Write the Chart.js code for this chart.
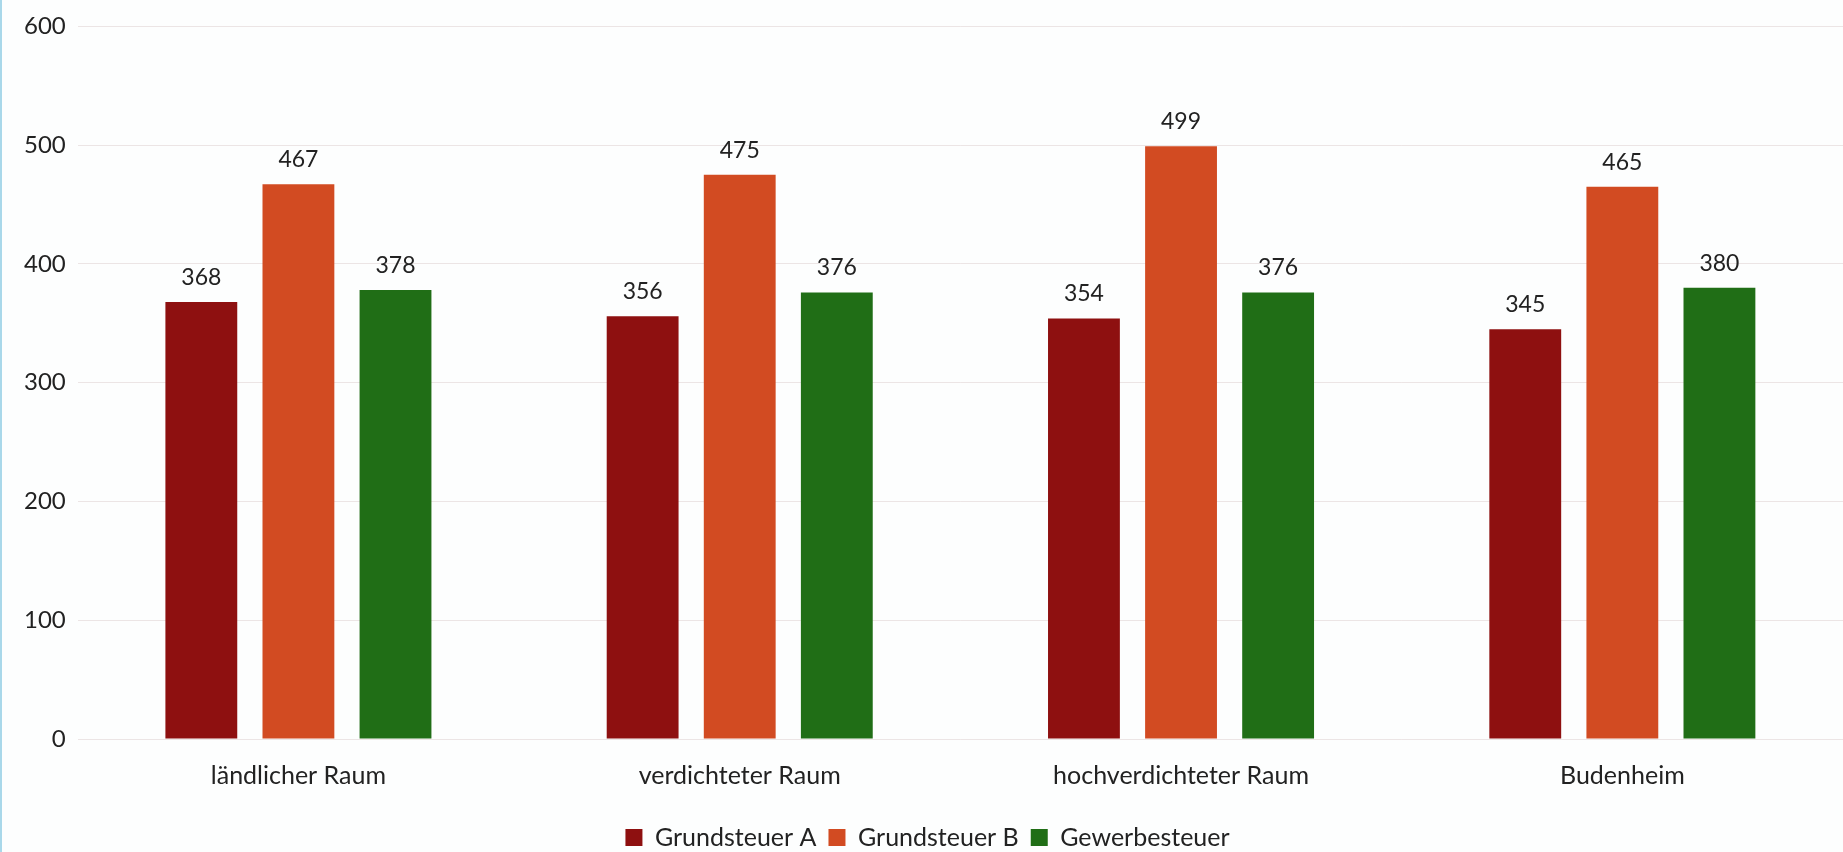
<!DOCTYPE html>
<html>
<head>
<meta charset="utf-8">
<script src="https://cdn.jsdelivr.net/npm/chart.js@4/dist/chart.umd.min.js"></script>
<style>
  html,body{margin:0;padding:0;background:#fdfefe;overflow:hidden;}
  #wrap{width:1843px;height:860px;position:relative;border-left:2px solid #a9d8ea;box-sizing:border-box;}
</style>
</head>
<body>
<div id="wrap"><canvas id="c"></canvas></div>
<script>
const categories = ['ländlicher Raum','verdichteter Raum','hochverdichteter Raum','Budenheim'];
const grundsteuerA = [368,356,354,345];
const grundsteuerB = [467,475,499,465];
const gewerbesteuer = [378,376,376,380];
const yTicks = [0,100,200,300,400,500,600];

const FONT = 'Lato, "Open Sans", sans-serif';

// value labels on top of bars
const valueLabels = {
  id:'valueLabels',
  afterDatasetsDraw(chart){
    const ctx=chart.ctx;
    ctx.save();
    ctx.font='23px '+FONT;
    ctx.fillStyle='#222';
    ctx.textAlign='center';
    ctx.textBaseline='bottom';
    chart.data.datasets.forEach((ds,i)=>{
      chart.getDatasetMeta(i).data.forEach((bar,j)=>{
        ctx.fillText(ds.data[j], bar.x, bar.y-13);
      });
    });
    ctx.restore();
  }
};

new Chart(document.getElementById('c'),{
  type:'bar',
  data:{
    labels:categories,
    datasets:[
      {label:'Grundsteuer A',data:grundsteuerA,backgroundColor:'#8e1010'},
      {label:'Grundsteuer B',data:grundsteuerB,backgroundColor:'#d24b22'},
      {label:'Gewerbesteuer',data:gewerbesteuer,backgroundColor:'#206e16'}
    ]
  },
  options:{
    responsive:true,
    maintainAspectRatio:false,
    animation:false,
    layout:{padding:{left:10,right:0,top:12,bottom:0}},
    datasets:{bar:{categoryPercentage:0.66,barPercentage:0.74}},
    scales:{
      x:{
        grid:{display:false,drawTicks:false},
        border:{display:false},
        ticks:{font:{size:25,family:FONT},color:'#222',padding:22}
      },
      y:{
        min:0,max:600,
        afterBuildTicks:s=>{s.ticks=yTicks.map(v=>({value:v}));},
        grid:{color:'rgba(215,200,200,0.45)',drawTicks:false},
        border:{display:false},
        ticks:{font:{size:24,family:FONT},color:'#222',padding:12}
      }
    },
    plugins:{
      legend:{
        position:'bottom',
        labels:{font:{size:25,family:FONT},color:'#222',boxWidth:17,boxHeight:17,padding:12}
      },
      tooltip:{enabled:false}
    }
  },
  plugins:[valueLabels]
});
</script>
</body>
</html>
